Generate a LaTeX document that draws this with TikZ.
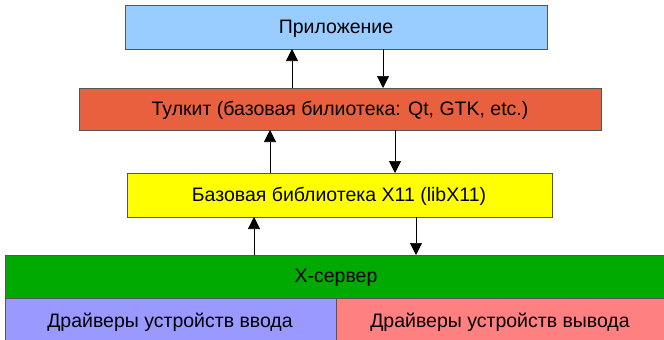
\documentclass[tikz,border=0pt]{standalone}
\usepackage{fontspec}
\setmainfont{Liberation Sans}
\usetikzlibrary{arrows.meta}
\definecolor{cApp}{HTML}{99CCFF}
\definecolor{cTk}{HTML}{E9603F}
\definecolor{cX}{HTML}{FFFF00}
\definecolor{cSrv}{HTML}{00AA00}
\definecolor{cIn}{HTML}{9999FF}
\definecolor{cOut}{HTML}{FF8080}
\definecolor{cEdge}{HTML}{555555}
\tikzset{
  layer/.style={draw=cEdge, line width=0.8pt},
  lbl/.style={font=\fontsize{19.5}{22}\selectfont, inner sep=0pt},
  flow/.style={line width=0.7pt, -{Triangle[width=12pt,length=12pt]}}
}
\begin{document}
\begin{tikzpicture}[x=1pt,y=-1pt]
\useasboundingbox (0,0) rectangle (664,340);
\fill[white] (0,0) rectangle (664,340);
\draw[layer, fill=cApp] (125,5) rectangle (547,49);
\node[lbl] (app) at (336,29) {Приложение};
\draw[layer, fill=cTk] (79,88) rectangle (601,130);
\node[lbl] (tk) at (340,110) {Тулкит (базовая билиотека: Qt, GTK, etc.)};
\draw[layer, fill=cX] (127,173) rectangle (552,217);
\node[lbl] (x11) at (339,196) {Базовая библиотека X11 (libX11)};
\draw[layer, fill=cSrv] (5,255) rectangle (668,298);
\node[lbl] (srv) at (336,278) {X-сервер};
\draw[layer, fill=cIn] (5,298) rectangle (336,344);
\node[lbl] (in) at (170,322) {Драйверы устройств ввода};
\draw[layer, fill=cOut] (336,298) rectangle (668,344);
\node[lbl] (out) at (500,322) {Драйверы устройств вывода};
\coordinate (a1) at (292,88); \coordinate (a2) at (292,49);
\coordinate (b1) at (383,49); \coordinate (b2) at (383,88);
\coordinate (c1) at (270,173); \coordinate (c2) at (270,130);
\coordinate (d1) at (395,130); \coordinate (d2) at (395,173);
\coordinate (e1) at (254,255); \coordinate (e2) at (254,217);
\coordinate (f1) at (416,217); \coordinate (f2) at (416,255);
\draw[flow] (a1) -- (a2);
\draw[flow] (b1) -- (b2);
\draw[flow] (c1) -- (c2);
\draw[flow] (d1) -- (d2);
\draw[flow] (e1) -- (e2);
\draw[flow] (f1) -- (f2);
\end{tikzpicture}
\end{document}
